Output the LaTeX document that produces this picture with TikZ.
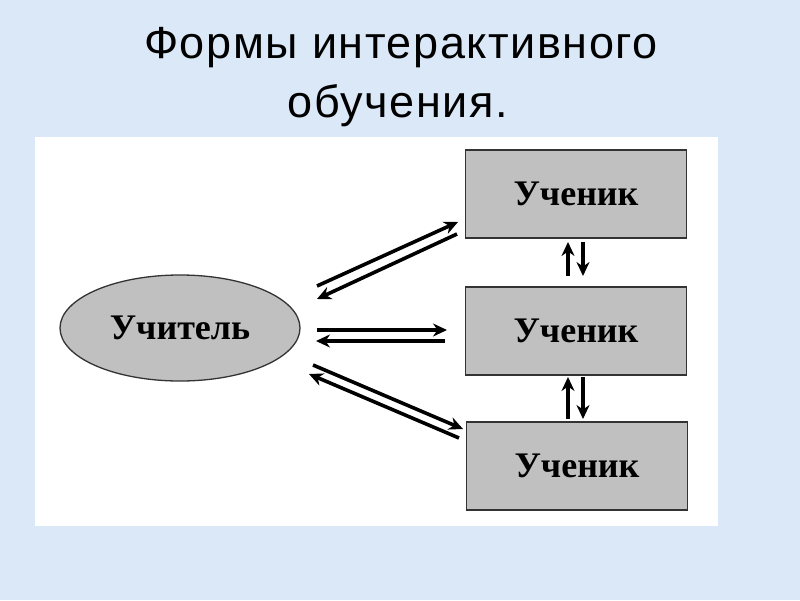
\documentclass[tikz,border=0pt]{standalone}
\usepackage{fontspec}
\setmainfont{Liberation Serif}
\newfontfamily\titlefont[LetterSpace=3.5]{Liberation Sans}
\usetikzlibrary{arrows.meta,shapes.geometric}
\definecolor{bgblue}{RGB}{218,232,247}
\definecolor{boxgray}{RGB}{192,192,192}
\tikzset{
  pupil/.style={draw=black!80,line width=1.3pt,fill=boxgray,minimum width=221pt,minimum height=88pt,inner sep=0pt,font=\bfseries\fontsize{36}{40}\selectfont},
  teacher/.style={ellipse,draw=black!80,line width=1.3pt,fill=boxgray,minimum width=240pt,minimum height=106pt,inner sep=0pt,font=\bfseries\fontsize{36}{40}\selectfont},
  arr/.style={line width=3.6pt,-{Stealth[length=14pt,width=13pt]}},
  titletext/.style={font=\titlefont\fontsize{45}{50}\selectfont,anchor=base,inner sep=0pt},
}
\begin{document}
\begin{tikzpicture}[x=1pt,y=-1pt]
\useasboundingbox (0,0) rectangle (800,600);
\fill[bgblue] (0,0) rectangle (800,600);
\fill[white] (35,137) rectangle (718,526);
\node[titletext] (title1) at (401,58) {Формы интерактивного};
\node[titletext] (title2) at (398,117) {обучения.};
\node[teacher] (t) at (180,328) {Учитель};
\node[pupil] (s1) at (576,194) {Ученик};
\node[pupil] (s2) at (576,331) {Ученик};
\node[pupil] (s3) at (577,466) {Ученик};
% coordinates of arrow ends
\coordinate (a1s) at (317,286); \coordinate (a1e) at (458,222);
\coordinate (b1s) at (457,234); \coordinate (b1e) at (317,299);
\coordinate (a2s) at (317,330); \coordinate (a2e) at (447,330);
\coordinate (b2s) at (445,341); \coordinate (b2e) at (316,341);
\coordinate (a3s) at (313,365); \coordinate (a3e) at (463,429);
\coordinate (b3s) at (459,438); \coordinate (b3e) at (309,374);
\draw[arr] (a1s) -- (a1e);
\draw[arr] (b1s) -- (b1e);
\draw[arr] (a2s) -- (a2e);
\draw[arr] (b2s) -- (b2e);
\draw[arr] (a3s) -- (a3e);
\draw[arr] (b3s) -- (b3e);
% vertical arrows between pupils
\draw[arr] (568,276) -- (568,242);
\draw[arr] (583,242) -- (583,276);
\draw[arr] (568,419) -- (568,377);
\draw[arr] (583,377) -- (583,419);
\end{tikzpicture}
\end{document}
